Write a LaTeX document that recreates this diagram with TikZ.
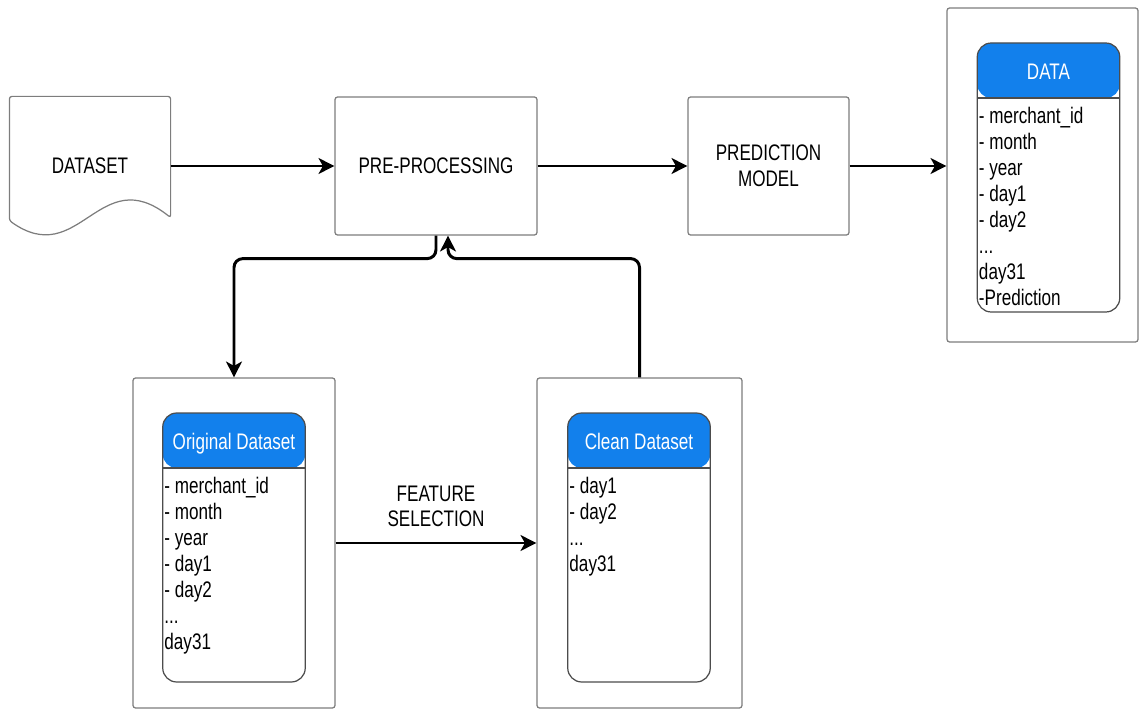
\documentclass[tikz,border=0pt]{standalone}
\usepackage{fontspec}
\setmainfont{Liberation Sans}[FakeStretch=0.76]
\usepackage{tikz}
\usetikzlibrary{arrows.meta,positioning,calc}

\definecolor{hdrblue}{RGB}{18,128,236}
\definecolor{boxgray}{RGB}{125,125,125}

\tikzset{
    flowbox/.style={line width=0.7pt, rounded corners=1.5pt, minimum height=2.76cm, align=center,
        font=\fontsize{12.8}{15}\selectfont},
    outerbox/.style={draw=boxgray, line width=0.7pt, rounded corners=1.5pt, minimum height=6.6cm},
    tablebox/.style={draw=black!70, line width=0.7pt, rounded corners=0.28cm, minimum width=2.85cm, minimum height=5.38cm,
        path picture={
            \fill[hdrblue] (path picture bounding box.north west) rectangle ([yshift=-1.1cm]path picture bounding box.north east);
            \draw[black!70, line width=0.7pt] ([yshift=-1.1cm]path picture bounding box.north west) -- ([yshift=-1.1cm]path picture bounding box.north east);
        }},
    headtext/.style={text=white, inner sep=0pt, text height=0.72em, text depth=0pt, font=\fontsize{12.8}{15}\selectfont},
    rowtext/.style={anchor=north west, inner sep=0pt, align=left, font=\fontsize{12.8}{14.8}\selectfont},
    flow/.style={line width=1.7pt, -{Stealth[length=9pt,width=9pt,inset=2.5pt]}},
}

\begin{document}
\begin{tikzpicture}

    \useasboundingbox (0,0) rectangle (22.8,14.22);

    % top row
    \node[flowbox, minimum width=3.2cm] (dataset) at (1.8,10.9) {DATASET};
    \draw[boxgray, line width=0.7pt, rounded corners=1.5pt] (dataset.north west) -- (dataset.north east) -- ($(dataset.south east)+(0,0.36)$)
        .. controls ($(dataset.south west)+(1.8,1.5)$) and ($(dataset.south west)+(1.4,-0.7)$) .. ($(dataset.south west)+(0,0.3)$) -- cycle;

    \node[flowbox, draw=boxgray, minimum width=4.04cm] (pre) at (8.72,10.9) {PRE-PROCESSING};
    \node[flowbox, draw=boxgray, minimum width=3.22cm] (pred) at (15.37,10.9) {PREDICTION\\MODEL};

    % output table
    \node[outerbox, minimum width=3.82cm, minimum height=6.68cm] (dataout) at (20.85,10.72) {};
    \node[tablebox] (datatab) at (20.97,10.67) {};
    \node[headtext] (datahead) at ([yshift=-0.62cm]datatab.north) {DATA};
    \node[rowtext] (datarows) at ([xshift=0.04cm,yshift=-1.28cm]datatab.north west)
        {- merchant\_id\\- month\\- year\\- day1\\- day2\\...\\day31\\-Prediction};

    % bottom row
    \node[outerbox, minimum width=4.04cm] (origout) at (4.68,3.36) {};
    \node[tablebox] (origtab) at (4.68,3.27) {};
    \node[headtext] (orighead) at ([yshift=-0.62cm]origtab.north) {Original Dataset};
    \node[rowtext] (origrows) at ([xshift=0.04cm,yshift=-1.28cm]origtab.north west)
        {- merchant\_id\\- month\\- year\\- day1\\- day2\\...\\day31};

    \node[outerbox, minimum width=4.1cm] (cleanout) at (12.79,3.36) {};
    \node[tablebox] (cleantab) at (12.78,3.27) {};
    \node[headtext] (cleanhead) at ([yshift=-0.62cm]cleantab.north) {Clean Dataset};
    \node[rowtext] (cleanrows) at ([xshift=0.04cm,yshift=-1.28cm]cleantab.north west)
        {- day1\\- day2\\...\\day31};

    % connectors
    \draw[flow] (dataset) -- (pre);
    \draw[flow] (pre) -- (pred);
    \draw[flow] (pred.east) -- (pred.east -| dataout.west);
    \draw[flow, rounded corners=5pt] (pre.south) -- ++(0,-0.46) -| (origout.north);
    \draw[flow, rounded corners=5pt] (cleanout.north) |- ([xshift=0.24cm,yshift=-0.46cm]pre.south) -- ([xshift=0.24cm]pre.south);
    \draw[flow] (origout) -- node[midway, yshift=0.73cm, align=center, inner sep=0pt, font=\fontsize{12.8}{14.5}\selectfont] (featlbl) {FEATURE\\SELECTION} (cleanout);

\end{tikzpicture}
\end{document}
